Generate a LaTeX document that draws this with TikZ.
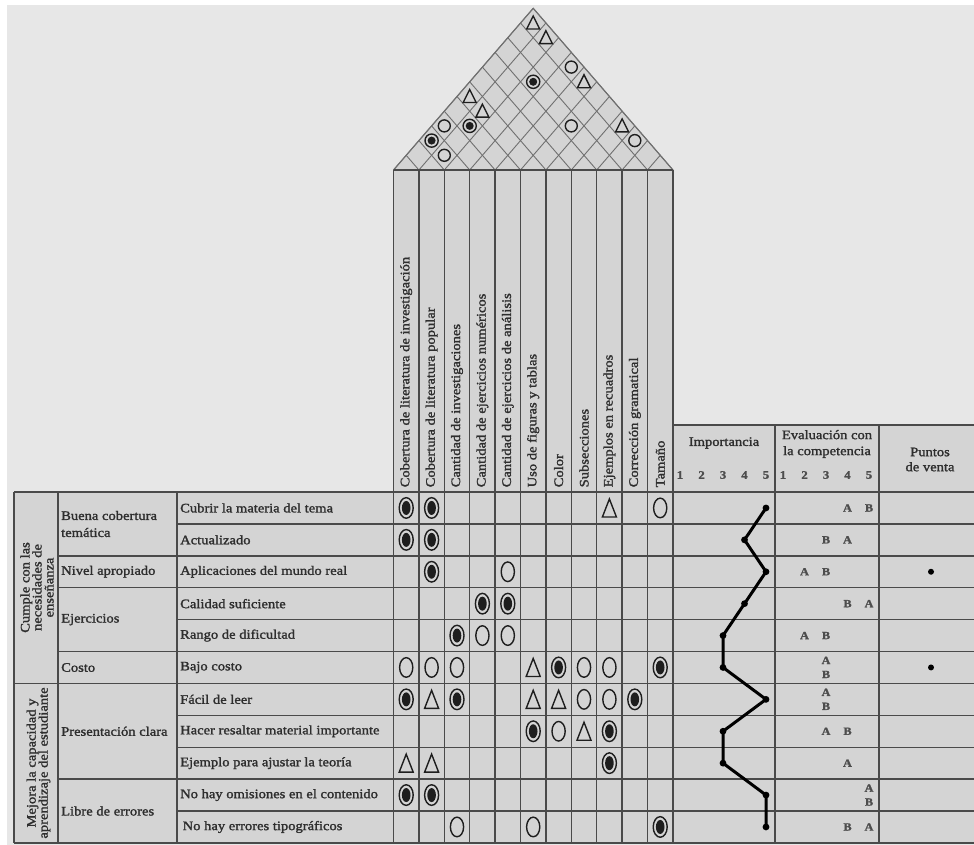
\documentclass[tikz,border=0pt]{standalone}
\usepackage{fontspec}
\setmainfont{Liberation Serif}[FakeStretch=1.12,FakeBold=1.6]
\definecolor{bgray}{HTML}{E7E7E7}
\definecolor{cellgray}{HTML}{D4D4D4}
\definecolor{rulecol}{HTML}{4A4A4A}
\definecolor{roofcol}{HTML}{707070}
\definecolor{ink}{HTML}{2E2E2E}
\definecolor{symcol}{HTML}{1E1E1E}
\begin{document}
\begin{tikzpicture}[x=1pt,y=-1pt,
  rulel/.style={draw=rulecol,line width=1.4pt},
  roofgrid/.style={draw=roofcol,line width=0.9pt},
  txt/.style={inner sep=0pt,text=ink,font=\fontsize{13}{15}\selectfont},
  rowlab/.style={txt,anchor=west},
  colhead/.style={txt,anchor=west,rotate=90},
  grouplab/.style={txt,rotate=90,align=center,font=\fontsize{13}{12}\selectfont},
  numlab/.style={txt,text=ink!85,font=\fontsize{11.5}{13}\selectfont\bfseries},
  letlab/.style={txt,text=ink!85,font=\fontsize{11}{12}\selectfont\bfseries},
  symline/.style={draw=symcol,line width=1.4pt},
  impline/.style={draw=black,line width=3pt},
  relO/.pic={\draw[symline] (0,0) ellipse [x radius=6.6pt, y radius=9.8pt];},
  relF/.pic={\draw[symline] (0,0) ellipse [x radius=7pt, y radius=10.3pt];
             \fill[symcol] (0,0) ellipse [x radius=4.3pt, y radius=7pt];},
  relT/.pic={\draw[symline,line join=miter] (-7,9) -- (7,9) -- (0,-9) -- cycle;},
  roofO/.pic={\draw[symline] (0,0) circle (6pt);},
  roofF/.pic={\draw[symline] (0,0) circle (6.6pt);
              \fill[symcol] (0,0) circle (4pt);},
  roofT/.pic={\draw[symline,line join=miter] (-6.5,6) -- (6.5,6) -- (0,-7) -- cycle;}
]
\useasboundingbox (0,0) rectangle (974,845);
\fill[white] (0,0) rectangle (974,845);
\fill[bgray] (7,5) rectangle (974,845);

% cell backgrounds
\fill[cellgray] (14,492) rectangle (393.5,843);
\fill[cellgray] (393.5,170) rectangle (673,843);
\fill[cellgray] (673,425) rectangle (974,843);
\fill[cellgray] (393.5,170) -- (533.25,8.3) -- (673,170) -- cycle;

% roof grid
\foreach \k in {0,...,11}{
  \draw[roofgrid] ({393.5+\k*25.4},170) -- ++({(11-\k)*12.7},{-(11-\k)*14.7});
  \draw[roofgrid] ({393.5+\k*25.4},170) -- ++({-\k*12.7},{-\k*14.7});
}
\draw[roofgrid,line width=1.1pt] (393.5,170) -- (533.25,8.3) -- (673,170);

% roof correlations
\foreach \i/\j/\t in {0/10/T,1/10/T,3/10/O,4/10/T,2/8/F,0/5/T,1/5/T,0/3/O,
                      1/4/F,0/2/F,1/2/O,5/8/O,7/10/T,8/10/O}
  \pic at ({393.5+((\i+\j)/2+0.5)*25.4},{170-(\j-\i)*14.7}) {roof\t};

% table rules
\foreach \k in {0,...,11}
  \draw[rulel] ({393.5+\k*25.4},170) -- ({393.5+\k*25.4},843);
\foreach \x in {14,58,177}
  \draw[rulel] (\x,492) -- (\x,843);
\foreach \x in {775,879}
  \draw[rulel] (\x,425) -- (\x,843);
\draw[rulel] (393.5,170) -- (673,170);
\draw[rulel] (673,425) -- (974,425);
\draw[rulel] (14,492) -- (974,492);
\foreach \k/\sx in {1/177,2/58,3/58,4/177,5/58,6/14,7/177,8/177,9/58,10/177,11/14}
  \draw[rulel] (\sx,{492+\k*31.9}) -- (974,{492+\k*31.9});

% technical characteristics
\foreach \t [count=\k] in {Cobertura de literatura de investigación,
    Cobertura de literatura popular, Cantidad de investigaciones,
    Cantidad de ejercicios numéricos, Cantidad de ejercicios de análisis,
    Uso de figuras y tablas, Color, Subsecciones, Ejemplos en recuadros,
    Corrección gramatical, Tamaño}
  \node[colhead] (h\k) at ({393.5+(\k-0.5)*25.4},487.5) {\t};

% customer requirements
\node[grouplab] (g1) at (37,587.5) {Cumple con las\\necesidades de\\enseñanza};
\node[grouplab] (g2) at (38.5,763) {Mejora la capacidad y\\aprendizaje del estudiante};

\node[rowlab,align=left,font=\fontsize{13}{17}\selectfont] (s1) at (61,524) {Buena cobertura\\temática};
\node[rowlab] (s2) at (61,571.7) {Nivel apropiado};
\node[rowlab] (s3) at (61,619.6) {Ejercicios};
\node[rowlab] (s4) at (61,667.5) {Costo};
\node[rowlab] (s5) at (61,731.3) {Presentación clara};
\node[rowlab] (s6) at (61,811) {Libre de errores};

\foreach \t [count=\r] in {Cubrir la materia del tema, Actualizado,
    Aplicaciones del mundo real, Calidad suficiente, Rango de dificultad,
    Bajo costo, Fácil de leer, Hacer resaltar material importante,
    Ejemplo para ajustar la teoría, No hay omisiones en el contenido}
  \node[rowlab] (r\r) at (180,{492+(\r-0.5)*31.9}) {\t};
\node[rowlab] (r11) at (182.5,{492+10.5*31.9}) {No hay errores tipográficos};

% relationship matrix
\foreach \r/\c/\t in {1/1/F,1/2/F,1/9/T,1/11/O,
    2/1/F,2/2/F,
    3/2/F,3/5/O,
    4/4/F,4/5/F,
    5/3/F,5/4/O,5/5/O,
    6/1/O,6/2/O,6/3/O,6/6/T,6/7/F,6/8/O,6/9/O,6/11/F,
    7/1/F,7/2/T,7/3/F,7/6/T,7/7/T,7/8/O,7/9/O,7/10/F,
    8/6/F,8/7/O,8/8/T,8/9/F,
    9/1/T,9/2/T,9/9/F,
    10/1/F,10/2/F,
    11/3/O,11/6/O,11/11/F}
  \pic at ({393.5+(\c-0.5)*25.4},{492+(\r-0.5)*31.9}) {rel\t};

% right-hand headers
\node[txt] (imp) at (724,443) {Importancia};
\foreach \n in {1,...,5}{
  \node[numlab] (in\n) at ({680+(\n-1)*21.5},475) {\n};
  \node[numlab] (cn\n) at ({783+(\n-1)*21.5},475) {\n};
}
\node[txt,align=center,font=\fontsize{13}{16}\selectfont] (eval) at (827,444) {Evaluación con\\la competencia};
\node[txt,align=center,font=\fontsize{13}{15}\selectfont] (pv) at (930,459.5) {Puntos\\de venta};

% importance profile
\foreach \v [count=\r] in {5,4,5,4,3,3,5,3,3,5,5}
  \coordinate (p\r) at ({680+(\v-1)*21.5},{492+(\r-0.5)*31.9});
\draw[impline] (p1) \foreach \r in {2,...,11}{ -- (p\r)};
\foreach \r in {1,...,11}
  \fill (p\r) circle (3.4pt);

% competitive evaluation
\foreach \r/\p/\l/\dy in {1/4/A/0,1/5/B/0,2/3/B/0,2/4/A/0,3/2/A/0,3/3/B/0,
    4/4/B/0,4/5/A/0,5/2/A/0,5/3/B/0,6/3/A/-7,6/3/B/7,7/3/A/-7,7/3/B/7,
    8/3/A/0,8/4/B/0,9/4/A/0,10/5/A/-7,10/5/B/7,11/4/B/0,11/5/A/0}
  \node[letlab] (e\r\l) at ({783+(\p-1)*21.5},{492+(\r-0.5)*31.9+\dy}) {\l};

% selling points
\fill (931,{492+2.5*31.9}) circle (3pt);
\fill (931,{492+5.5*31.9}) circle (3pt);
\end{tikzpicture}
\end{document}
